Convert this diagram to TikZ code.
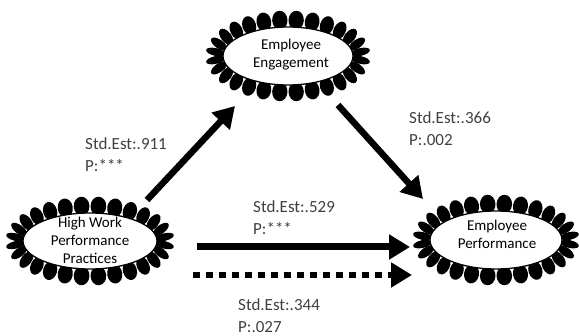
\documentclass[tikz,border=0pt]{standalone}
\usepackage{fontspec}
\setmainfont{Carlito}
\usetikzlibrary{arrows.meta,calc,shapes.geometric}
\definecolor{lblc}{HTML}{404040}
\newcommand\flowerring[5]{% cx cy ai bi N
  \foreach \k in {1,...,#5}{
    \pgfmathsetmacro\fpT{(\k-0.5)*360/#5}
    \pgfmathsetmacro\fpA{#3+8}
    \pgfmathsetmacro\fpB{#4+7}
    \pgfmathsetmacro\fpX{#1+\fpA*cos(\fpT)}
    \pgfmathsetmacro\fpY{#2+\fpB*sin(\fpT)}
    \pgfmathsetmacro\fpR{atan2(-\fpA*sin(\fpT),\fpB*cos(\fpT))}
    \pgfmathsetmacro\fpW{0.47*2*pi/#5*sqrt((\fpA*sin(\fpT))^2+(\fpB*cos(\fpT))^2)}
    \fill[black,shift={(\fpX,\fpY)},rotate=\fpR] (0,0) ellipse (9.5 and \fpW);
  }
  \fill[white,draw=black,line width=1.3pt] (#1,#2) ellipse (#3 and #4);
}
\begin{document}
\begin{tikzpicture}[x=1pt,y=-1pt,
  lbl/.style={anchor=west,align=left,text=lblc,font=\fontsize{17}{22}\selectfont,inner sep=0pt},
  ell/.style={ellipse,inner sep=0pt,align=center,font=\fontsize{15}{18}\selectfont},
  arr/.style={line width=6.5pt,-{Triangle[length=21pt,width=24pt]}},
]
\useasboundingbox (0,0) rectangle (579,336);
\flowerring{288}{56}{65}{29}{28}
\flowerring{90}{241}{67}{28}{28}
\flowerring{496}{240}{66}{29}{28}
\node[ell] (ee) at (291,55) {Employee\\Engagement};
\node[ell] (hw) at (90,240) {High Work\\Performance\\Practices};
\node[ell] (ep) at (497,234) {Employee\\Performance};
\draw[arr] ($(hw.center)+(57,-40)$) -- ($(ee.center)+(-56,51)$);
\draw[arr] ($(ee.center)+(47,50)$) -- ($(ep.center)+(-74,-35)$);
\draw[arr,line width=7pt] ($(hw.center)+(107,7)$) -- ($(ep.center)+(-87,13)$);
\draw[arr,dash pattern=on 7pt off 6pt] ($(hw.center)+(103,35)$) -- ($(ep.center)+(-85,41)$);
\node[lbl] (l1) at (85,155) {Std.Est:.911\\P:***};
\node[lbl] (l2) at (409,129) {Std.Est:.366\\P:.002};
\node[lbl] (l3) at (253,218) {Std.Est:.529\\P:***};
\node[lbl] (l4) at (238,316) {Std.Est:.344\\P:.027};
\end{tikzpicture}
\end{document}
